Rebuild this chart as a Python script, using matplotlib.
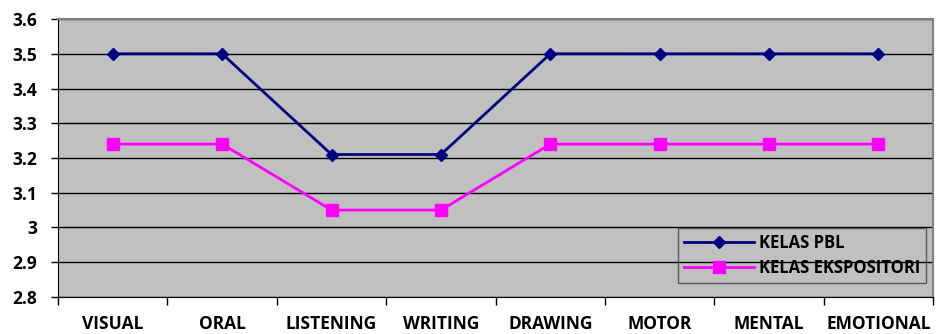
import matplotlib.pyplot as plt
from matplotlib.ticker import FixedLocator

categories = ['VISUAL', 'ORAL', 'LISTENING', 'WRITING', 'DRAWING', 'MOTOR', 'MENTAL', 'EMOTIONAL']
kelas_pbl = [3.5, 3.5, 3.21, 3.21, 3.5, 3.5, 3.5, 3.5]
kelas_ekspositori = [3.24, 3.24, 3.05, 3.05, 3.24, 3.24, 3.24, 3.24]
y_ticks = [2.8, 2.9, 3.0, 3.1, 3.2, 3.3, 3.4, 3.5, 3.6]
y_labels = ['2.8', '2.9', '3', '3.1', '3.2', '3.3', '3.4', '3.5', '3.6']

plt.rcParams['font.family'] = ['Open Sans', 'DejaVu Sans']
plt.rcParams['font.weight'] = 'bold'

fig = plt.figure(figsize=(9.36, 3.34), dpi=100)
ax = fig.add_axes([0.062, 0.111, 0.935, 0.832])
ax.set_facecolor('#c0c0c0')

x = list(range(len(categories)))
ax.plot(x, kelas_pbl, color='#000080', lw=2, marker='D', ms=6, label='KELAS PBL', zorder=3)
ax.plot(x, kelas_ekspositori, color='#ff00ff', lw=2, marker='s', ms=8, label='KELAS EKSPOSITORI', zorder=3)

ax.set_xlim(-0.5, len(categories) - 0.5)
ax.set_ylim(2.8, 3.6)
ax.set_yticks(y_ticks)
ax.set_yticklabels(y_labels)
ax.grid(axis='y', color='black', lw=1)
ax.set_axisbelow(True)

# category labels centred, tick marks on boundaries
ax.set_xticks(x)
ax.set_xticklabels(categories)
ax.tick_params(axis='x', which='major', length=0, pad=13, labelsize=12.5)
ax.xaxis.set_minor_locator(FixedLocator([i - 0.5 for i in range(len(categories) + 1)]))
ax.tick_params(axis='x', which='minor', length=6, width=1, direction='out')
ax.tick_params(axis='y', length=5, width=1, direction='out', labelsize=12.5, pad=10)
for lab in ax.get_xticklabels() + ax.get_yticklabels():
    lab.set_fontweight('bold')

for side in ['top', 'right']:
    ax.spines[side].set_color('#808080')
    ax.spines[side].set_linewidth(1.5)
ax.spines['left'].set_color('black')
ax.spines['bottom'].set_color('black')

leg = ax.legend(loc='lower right', bbox_to_anchor=(0.992, 0.05), frameon=True, fancybox=False,
                edgecolor='#404040', facecolor='none', fontsize=12, handlelength=4.2,
                borderpad=0.35, labelspacing=0.45, borderaxespad=0, handletextpad=0.3)
leg.get_frame().set_linewidth(1)
for t in leg.get_texts():
    t.set_fontweight('bold')

fig.savefig('out.png', dpi=100)
